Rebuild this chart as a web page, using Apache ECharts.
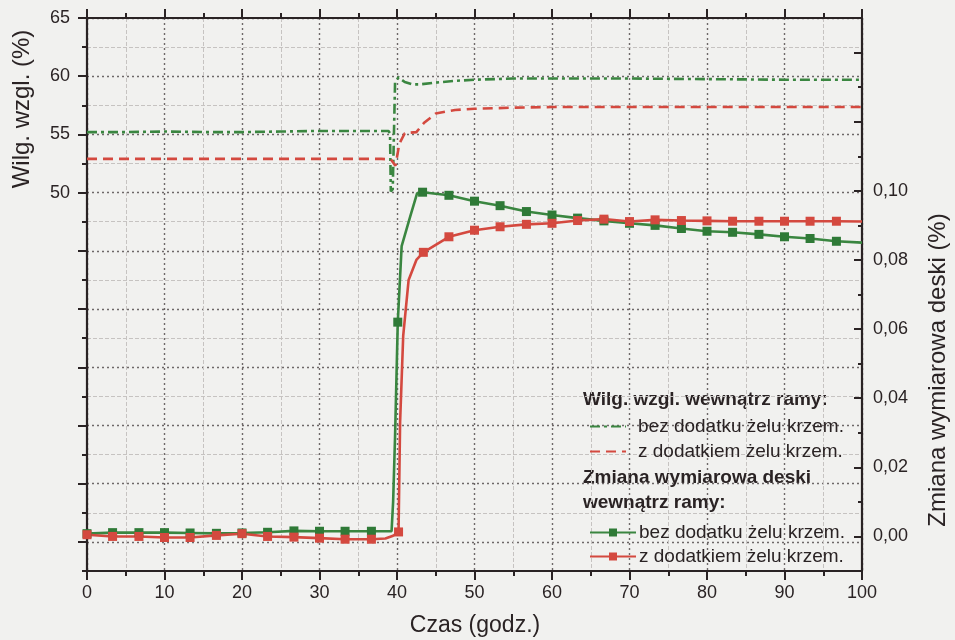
<!DOCTYPE html>
<html>
<head>
<meta charset="utf-8">
<script src="https://cdn.jsdelivr.net/npm/echarts@6/dist/echarts.min.js"></script>
<style>
  html, body { margin: 0; padding: 0; background: #f1f1ef; }
  #chart { width: 955px; height: 640px; }
</style>
</head>
<body>
<div id="chart"></div>
<script>
// Relative humidity inside the frame (left axis, %), [hour, value]
const rhWithoutGel = [[0,55.2],[5,55.2],[10,55.25],[15,55.2],[20,55.2],[25,55.25],[30,55.3],[35,55.3],[38.9,55.3],[39.1,55.1],[39.2,50.1],[39.45,50.3],[39.75,59.5],[40.2,59.9],[41,59.5],[42,59.3],[43,59.3],[45,59.45],[47.5,59.6],[50,59.7],[55,59.8],[60,59.8],[70,59.8],[80,59.75],[90,59.7],[100,59.7]];
const rhWithGel = [[0,52.9],[10,52.9],[20,52.9],[30,52.9],[38,52.9],[39.2,52.85],[39.8,52.3],[40.3,54.2],[41,55.1],[42.5,55.2],[43.5,56.0],[45,56.8],[47.5,57.1],[50,57.2],[55,57.3],[60,57.35],[70,57.35],[80,57.35],[90,57.35],[100,57.35]];

// Dimensional change of the board (right axis, %): measured points with markers
const dimWithoutMarks = [[0,0.0008],[3.3,0.0011],[6.7,0.0011],[10,0.0011],[13.3,0.001],[16.7,0.0009],[20,0.001],[23.3,0.0012],[26.7,0.0016],[30,0.0015],[33.3,0.0015],[36.7,0.0015],[40.1,0.062],[43.3,0.0996],[46.7,0.0987],[50,0.097],[53.3,0.0957],[56.7,0.094],[60,0.093],[63.3,0.0921],[66.7,0.0913],[70,0.0906],[73.3,0.09],[76.7,0.0891],[80,0.0883],[83.3,0.088],[86.7,0.0874],[90,0.0867],[93.3,0.0862],[96.7,0.0854]];
const dimWithMarks = [[0,0.0005],[3.3,0.0],[6.7,0.0],[10,-0.0003],[13.3,-0.0003],[16.7,0.0003],[20,0.0008],[23.3,0.0],[26.7,-0.0002],[30,-0.0005],[33.3,-0.0008],[36.7,-0.0008],[40.2,0.0013],[43.4,0.0822],[46.7,0.0867],[50,0.0886],[53.3,0.0896],[56.7,0.0903],[60,0.0906],[63.3,0.0914],[66.7,0.0918],[70,0.0911],[73.3,0.0916],[76.7,0.0914],[80,0.0913],[83.3,0.0912],[86.7,0.0912],[90,0.0912],[93.3,0.0912],[96.7,0.0912]];
// intermediate curve points (no marker)
const dimWithoutCurve = [[39.3,0.0015],[39.5,0.01],[39.75,0.029],[40.6,0.084],[41.7,0.0925],[42.6,0.0993],[100,0.085]];
const dimWithCurve = [[38.5,-0.0006],[39.5,0.0002],[40.4,0.033],[40.8,0.058],[41.5,0.0742],[42.5,0.080],[100,0.0911]];

// Tick positions and labels
const xMajor = [0,10,20,30,40,50,60,70,80,90,100];
const xMinor = [5,15,25,35,45,55,65,75,85,95];
const rhMajor = [20,25,30,35,40,45,50,55,60,65];
const rhMinor = [17.5,22.5,27.5,32.5,37.5,42.5,47.5,52.5,57.5,62.5];
const rhLabels = [50,55,60,65];
const dimMajor = [0,0.02,0.04,0.06,0.08,0.10,0.12,0.14];
const dimMinor = [-0.01,0.01,0.03,0.05,0.07,0.09,0.11,0.13];
const dimLabels = [0,0.02,0.04,0.06,0.08,0.10];

const legendHeaderRh = 'Wilg. wzgl. wewnątrz ramy:';
const legendHeaderDim1 = 'Zmiana wymiarowa deski';
const legendHeaderDim2 = 'wewnątrz ramy:';
const seriesLabels = {
  rhWithout: 'bez dodatku żelu krzem.',
  rhWith: 'z dodatkiem żelu krzem.',
  dimWithout: 'bez dodatku żelu krzem.',
  dimWith: 'z dodatkiem żelu krzem.'
};

const INK = '#2a2324';
const GREEN = '#3a8640';
const GREEN_DARK = '#2f7a37';
const RED = '#d4493f';
const FONT = 'Liberation Sans, Arial, sans-serif';

function withMarkers(marks, curve) {
  return marks.map(p => ({ value: p }))
    .concat(curve.map(p => ({ value: p, symbol: 'none' })))
    .sort((a, b) => a.value[0] - b.value[0]);
}

const majorGrid = { show: true, lineStyle: { color: '#6e6868', width: 1.4, type: [2, 3] } };
const minorGrid = { show: true, lineStyle: { color: '#c6c3c1', width: 1, type: [4, 2] } };
const axisLineStyle = { show: true, onZero: false, lineStyle: { color: INK, width: 2.2 } };

const chart = echarts.init(document.getElementById('chart'));
chart.setOption({
  backgroundColor: '#f1f1ef',
  animation: false,
  textStyle: { fontFamily: FONT, color: INK },
  grid: { left: 87, right: 93, top: 18, bottom: 69, containLabel: false },
  xAxis: [
    { type: 'value', min: 0, max: 100, interval: 5, position: 'bottom',
      axisLine: axisLineStyle,
      axisTick: { show: true, customValues: xMajor, length: 9, lineStyle: { color: INK, width: 2 } },
      axisLabel: { customValues: xMajor, fontSize: 18, color: INK, margin: 13, fontFamily: FONT },
      splitLine: majorGrid },
    { type: 'value', min: 0, max: 100, interval: 5, position: 'bottom',
      axisLine: { show: false, onZero: false },
      axisTick: { show: true, customValues: xMinor, length: 5, lineStyle: { color: INK, width: 2 } },
      axisLabel: { show: false },
      splitLine: minorGrid },
    { type: 'value', min: 0, max: 100, interval: 5, position: 'top',
      axisLine: axisLineStyle,
      axisTick: { show: true, customValues: xMajor, length: 9, lineStyle: { color: INK, width: 2 } },
      axisLabel: { show: false }, splitLine: { show: false } },
    { type: 'value', min: 0, max: 100, interval: 5, position: 'top',
      axisLine: { show: false, onZero: false },
      axisTick: { show: true, customValues: xMinor, length: 5, lineStyle: { color: INK, width: 2 } },
      axisLabel: { show: false }, splitLine: { show: false } }
  ],
  yAxis: [
    { type: 'value', min: 17.5, max: 65, interval: 2.5, position: 'left',
      axisLine: axisLineStyle,
      axisTick: { show: true, customValues: rhMajor, length: 9, lineStyle: { color: INK, width: 2 } },
      axisLabel: { customValues: rhLabels, fontSize: 18, color: INK, margin: 17, fontFamily: FONT },
      splitLine: majorGrid },
    { type: 'value', min: 17.5, max: 65, interval: 2.5, position: 'left',
      axisLine: { show: false, onZero: false },
      axisTick: { show: true, customValues: rhMinor, length: 5, lineStyle: { color: INK, width: 2 } },
      axisLabel: { show: false },
      splitLine: minorGrid },
    { type: 'value', min: -0.01, max: 0.15, interval: 0.01, position: 'right',
      axisLine: axisLineStyle,
      axisTick: { show: true, inside: true, customValues: dimMajor, length: 8, lineStyle: { color: INK, width: 2 } },
      axisLabel: { customValues: dimLabels, fontSize: 18, color: INK, margin: 11, fontFamily: FONT,
        formatter: v => v.toFixed(2).replace('.', ',') },
      splitLine: { show: false } },
    { type: 'value', min: -0.01, max: 0.15, interval: 0.01, position: 'right',
      axisLine: { show: false, onZero: false },
      axisTick: { show: true, inside: true, customValues: dimMinor, length: 4, lineStyle: { color: INK, width: 2 } },
      axisLabel: { show: false }, splitLine: { show: false } }
  ],
  legend: [
    { orient: 'vertical', left: 584, top: 412, itemWidth: 36, itemHeight: 14, itemGap: 6,
      data: ['rhWithout', 'rhWith'],
      itemStyle: { opacity: 0 },
      formatter: n => seriesLabels[n],
      textStyle: { fontSize: 19, color: INK, fontFamily: FONT, padding: [0, 0, 0, 7], lineHeight: 18 } },
    { orient: 'vertical', left: 584, top: 518, itemWidth: 46, itemHeight: 10, itemGap: 5,
      data: ['dimWithout', 'dimWith'],
      formatter: n => seriesLabels[n],
      textStyle: { fontSize: 19, color: INK, fontFamily: FONT, padding: [0, 0, 0, -2], lineHeight: 18 } }
  ],
  graphic: [
    { type: 'text', left: 583, top: 390, style: { text: legendHeaderRh, font: 'bold 19px ' + FONT, fill: INK } },
    { type: 'text', left: 583, top: 468, style: { text: legendHeaderDim1, font: 'bold 19px ' + FONT, fill: INK } },
    { type: 'text', left: 583, top: 493, style: { text: legendHeaderDim2, font: 'bold 19px ' + FONT, fill: INK } },
    { type: 'text', x: 22, y: 109, rotation: Math.PI / 2,
      style: { text: 'Wilg. wzgl. (%)', font: '24px ' + FONT, fill: INK, align: 'center', verticalAlign: 'middle' } },
    { type: 'text', x: 938, y: 370, rotation: Math.PI / 2,
      style: { text: 'Zmiana wymiarowa deski (%)', font: '24px ' + FONT, fill: INK, align: 'center', verticalAlign: 'middle' } },
    { type: 'text', x: 475, y: 626,
      style: { text: 'Czas (godz.)', font: '23px ' + FONT, fill: INK, align: 'center', verticalAlign: 'middle' } }
  ],
  series: [
    { name: 'rhWithout', type: 'line', xAxisIndex: 0, yAxisIndex: 0, data: rhWithoutGel,
      symbol: 'none', lineStyle: { color: GREEN, width: 2.6, type: [10, 4, 3, 4] }, itemStyle: { color: GREEN } },
    { name: 'rhWith', type: 'line', xAxisIndex: 0, yAxisIndex: 0, data: rhWithGel,
      symbol: 'none', lineStyle: { color: RED, width: 2.6, type: [10, 6] }, itemStyle: { color: RED } },
    { name: 'dimWithout', type: 'line', xAxisIndex: 0, yAxisIndex: 2, data: withMarkers(dimWithoutMarks, dimWithoutCurve),
      symbol: 'rect', symbolSize: 9, showAllSymbol: true,
      lineStyle: { color: GREEN, width: 2.6 }, itemStyle: { color: GREEN_DARK } },
    { name: 'dimWith', type: 'line', xAxisIndex: 0, yAxisIndex: 2, data: withMarkers(dimWithMarks, dimWithCurve),
      symbol: 'rect', symbolSize: 9, showAllSymbol: true,
      lineStyle: { color: RED, width: 2.6 }, itemStyle: { color: RED } }
  ]
});
</script>
</body>
</html>
